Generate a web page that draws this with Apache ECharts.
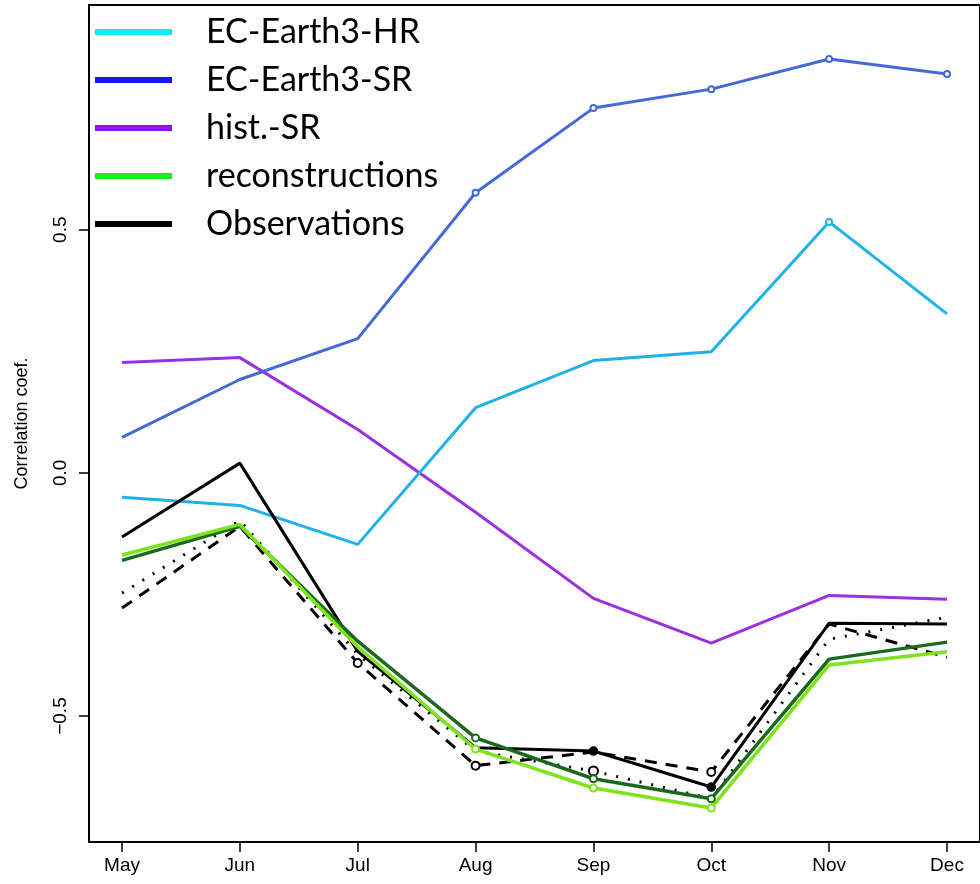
<!DOCTYPE html>
<html>
<head>
<meta charset="utf-8">
<script src="https://cdn.jsdelivr.net/npm/echarts@6/dist/echarts.min.js"></script>
<style>html,body{margin:0;padding:0;background:#fff;}#c{width:980px;height:884px;}</style>
</head>
<body>
<div id="c"></div>
<script>
const months = ['May','Jun','Jul','Aug','Sep','Oct','Nov','Dec'];
const yTicks = [-0.5, 0.0, 0.5];
const legendNames = ['EC-Earth3-HR','EC-Earth3-SR','hist.-SR','reconstructions','Observations'];
const legendColors = ['#14E8F0','#1414EE','#9010F8','#18EE18','#000000'];

const hrVals    = [-0.050,-0.067,-0.147, 0.134, 0.231, 0.249, 0.516, 0.327];
const srVals    = [ 0.073, 0.192, 0.276, 0.576, 0.750, 0.789, 0.851, 0.820];
const histVals  = [ 0.227, 0.237, 0.089,-0.081,-0.258,-0.350,-0.252,-0.260];
const recLight  = [-0.169,-0.106,-0.358,-0.568,-0.648,-0.689,-0.395,-0.368];
const recDark   = [-0.180,-0.110,-0.346,-0.545,-0.629,-0.670,-0.383,-0.348];
const obsSolid  = [-0.132, 0.020,-0.367,-0.565,-0.572,-0.646,-0.309,-0.311];
const obsDashed = [-0.278,-0.110,-0.391,-0.602,-0.574,-0.615,-0.311,-0.379];
const obsDotted = [-0.247,-0.098,-0.373,-0.572,-0.613,-0.670,-0.342,-0.297];

// month indices that carry a circle marker
const srMarks = [3,4,5,6,7];
const hrMarks = [6];
const lightMarks = [3,4,5];
const darkMarks = [3,4,5];
const solidMarks = [4,5];
const dashedMarks = [2,3,5];
const dottedMarks = [4];

function pts(vals, marks, sym, size) {
  return vals.map((v, i) => marks.indexOf(i) >= 0
    ? {value: [i, v], symbol: sym, symbolSize: size}
    : {value: [i, v], symbol: 'none'});
}
function lineSeries(name, vals, color, width, type, marks, sym, size) {
  return {
    name: name, type: 'line', data: pts(vals, marks, sym, size),
    showSymbol: true, symbol: 'none',
    lineStyle: {color: color, width: width, type: type},
    itemStyle: {color: color, borderColor: color, borderWidth: 1.5},
    silent: true, z: 3
  };
}

const series = [
  lineSeries('s_hist', histVals, '#9A30DE', 3, 'solid', [], 'none', 0),
  lineSeries('s_hr', hrVals, '#1EB2E8', 3, 'solid', hrMarks, 'emptyCircle', 6),
  lineSeries('s_sr', srVals, '#4568DA', 3, 'solid', srMarks, 'emptyCircle', 6),
  lineSeries('s_dash', obsDashed, '#000000', 3, [12, 9], dashedMarks, 'emptyCircle', 8),
  lineSeries('s_dot', obsDotted, '#000000', 3, [2, 10], dottedMarks, 'emptyCircle', 9),
  lineSeries('s_obs', obsSolid, '#000000', 3, 'solid', solidMarks, 'circle', 8),
  lineSeries('s_dark', recDark, '#1B6A1B', 3.5, 'solid', darkMarks, 'emptyCircle', 7),
  lineSeries('s_light', recLight, '#7EE21C', 3.5, 'solid', lightMarks, 'emptyCircle', 7)
];
legendNames.forEach((n, i) => {
  series.push({name: n, type: 'line', data: [], color: legendColors[i],
    itemStyle: {color: legendColors[i]}, lineStyle: {color: legendColors[i]}});
});

const chart = echarts.init(document.getElementById('c'), null, {renderer: 'canvas'});
chart.setOption({
  animation: false,
  backgroundColor: '#ffffff',
  grid: {left: 89, top: 5, width: 894, height: 837, show: true,
         borderColor: '#000', borderWidth: 2, backgroundColor: 'transparent'},
  legend: {
    data: legendNames, orient: 'vertical', left: 90, top: 3,
    icon: 'rect', itemWidth: 77, itemHeight: 6, itemGap: 0,
    selectedMode: false,
    textStyle: {fontFamily: 'Lato', fontSize: 34, color: '#000', lineHeight: 48,
                padding: [0, 0, 0, 29]}
  },
  xAxis: {
    type: 'value', min: -0.28, max: 7.28,
    axisLine: {show: true, onZero: false, lineStyle: {color: '#000', width: 2}},
    axisTick: {show: true, customValues: [0,1,2,3,4,5,6,7], length: 10,
               lineStyle: {color: '#000', width: 1.5}},
    axisLabel: {customValues: [0,1,2,3,4,5,6,7], formatter: v => months[Math.round(v)],
                fontFamily: 'Liberation Sans', fontSize: 19, color: '#000', margin: 14},
    splitLine: {show: false}
  },
  yAxis: {
    type: 'value', min: -0.759, max: 0.962,
    name: 'Correlation coef.', nameLocation: 'middle', nameGap: 58, nameRotate: 90,
    nameTextStyle: {fontFamily: 'Liberation Sans', fontSize: 18, color: '#000'},
    axisLine: {show: true, onZero: false, lineStyle: {color: '#000', width: 2}},
    axisTick: {show: true, customValues: yTicks, length: 10,
               lineStyle: {color: '#000', width: 1.5}},
    axisLabel: {customValues: yTicks, rotate: 90, margin: 19,
                formatter: v => v.toFixed(1).replace('-', '\u2212'),
                fontFamily: 'Liberation Sans', fontSize: 19, color: '#000'},
    splitLine: {show: false}
  },
  series: series
});
</script>
</body>
</html>
